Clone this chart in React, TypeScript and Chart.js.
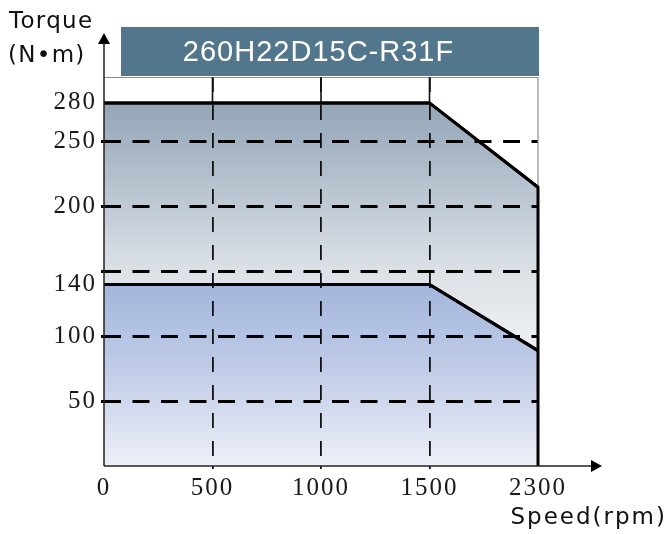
import React, { useEffect, useRef } from 'react';
import { Chart, registerables } from 'chart.js';

Chart.register(...registerables);

// ---- data ----
const speedLabels = ['0', '500', '1000', '1500', '2300'];
const peakTorque = [280, 280, 280, 280, 215];
const ratedTorque = [140, 140, 140, 140, 89];
const torqueTickValues = [50, 100, 140, 150, 200, 250, 280];
const torqueTickLabels = ['50', '100', '140', '', '200', '250', '280'];
const gridTorqueValues = [50, 100, 150, 200, 250];
const gridSpeedLabels = ['500', '1000', '1500'];
const modelName = '260H22D15C-R31F';
const yTitleLines = ['Torque', '(N•m)'];
const xTitle = 'Speed(rpm)';

const SERIF = '"Liberation Serif", "DejaVu Serif", serif';
const SANS = '"DejaVu Sans", "Noto Sans", sans-serif';

const decorPlugin = {
  id: 'decor',
  beforeLayout(chart: any) {
    chart.ctx.letterSpacing = '2px';
  },
  beforeDraw(chart: any) {
    const ctx = chart.ctx;
    ctx.save();
    ctx.fillStyle = '#ffffff';
    ctx.fillRect(0, 0, chart.width, chart.height);
    ctx.restore();
    ctx.letterSpacing = '2px';
  },
  afterDraw(chart: any) {
    const { ctx, chartArea: a, scales } = chart;
    const x = scales.x;
    const y = scales.y;
    const last = speedLabels.length - 1;
    const xEnd = x.getPixelForValue(last);
    const yPeakEnd = y.getPixelForValue(peakTorque[last]);

    ctx.save();
    ctx.letterSpacing = '0px';
    ctx.setLineDash([]);

    // thin frame (top + right above curve)
    ctx.strokeStyle = '#8c8c8c';
    ctx.lineWidth = 1.2;
    ctx.beginPath();
    ctx.moveTo(a.left, a.top + 0.5);
    ctx.lineTo(xEnd, a.top + 0.5);
    ctx.moveTo(xEnd, a.top);
    ctx.lineTo(xEnd, yPeakEnd);
    ctx.stroke();

    // solid grid segments above peak curve
    ctx.strokeStyle = '#111';
    ctx.lineWidth = 1.6;
    gridSpeedLabels.forEach((l) => {
      const i = speedLabels.indexOf(l);
      const px = x.getPixelForValue(i);
      ctx.beginPath();
      ctx.moveTo(px, a.top);
      ctx.lineTo(px, y.getPixelForValue(peakTorque[i]) - 1);
      ctx.stroke();
    });

    // redraw curves on top of the grid
    chart.getSortedVisibleDatasetMetas().forEach((meta: any) => {
      const pts = meta.data;
      ctx.strokeStyle = '#000';
      ctx.lineWidth = 3;
      ctx.lineJoin = 'miter';
      ctx.beginPath();
      pts.forEach((p: any, k: number) => (k === 0 ? ctx.moveTo(p.x, p.y) : ctx.lineTo(p.x, p.y)));
      ctx.stroke();
    });

    // closing vertical line at max speed
    ctx.strokeStyle = '#000';
    ctx.lineWidth = 3;
    ctx.beginPath();
    ctx.moveTo(xEnd, yPeakEnd - 1);
    ctx.lineTo(xEnd, a.bottom);
    ctx.stroke();

    // axes with arrows
    ctx.strokeStyle = '#222';
    ctx.fillStyle = '#000';
    ctx.lineWidth = 1.5;
    ctx.beginPath();
    ctx.moveTo(a.left, a.bottom);
    ctx.lineTo(a.left, 40);
    ctx.moveTo(a.left, a.bottom);
    ctx.lineTo(594, a.bottom);
    ctx.stroke();
    ctx.beginPath();
    ctx.moveTo(a.left, 33);
    ctx.lineTo(a.left - 6, 44);
    ctx.lineTo(a.left + 6, 44);
    ctx.closePath();
    ctx.fill();
    ctx.beginPath();
    ctx.moveTo(602, a.bottom);
    ctx.lineTo(591, a.bottom - 6);
    ctx.lineTo(591, a.bottom + 6);
    ctx.closePath();
    ctx.fill();

    // title box
    const boxLeft = a.left + 17;
    const boxTop = 27;
    const boxBottom = a.top - 1;
    ctx.fillStyle = '#52768c';
    ctx.fillRect(boxLeft, boxTop, xEnd + 1 - boxLeft, boxBottom - boxTop);
    ctx.fillStyle = '#ffffff';
    ctx.font = `29px "Liberation Sans", Arial, sans-serif`;
    ctx.letterSpacing = '1px';
    ctx.textAlign = 'center';
    ctx.textBaseline = 'middle';
    ctx.fillText(modelName, (boxLeft + xEnd) / 2 - 11, (boxTop + boxBottom) / 2 + 1);

    // axis titles
    ctx.fillStyle = '#111';
    ctx.font = `23px ${SANS}`;
    ctx.letterSpacing = '1.3px';
    ctx.textAlign = 'left';
    ctx.textBaseline = 'alphabetic';
    ctx.fillText(yTitleLines[0], 9, 28);
    ctx.fillText(yTitleLines[1], 8, 62);
    ctx.textAlign = 'right';
    ctx.letterSpacing = '2px';
    ctx.fillText(xTitle, 667, 524);
    ctx.restore();
  },
};

export default function App() {
  const ref = useRef<HTMLCanvasElement>(null);

  useEffect(() => {
    const canvas = ref.current;
    if (!canvas) return;

    const upperGradient = (context: any) => {
      const chart = context.chart;
      const a = chart.chartArea;
      if (!a) return 'rgba(0,0,0,0)';
      const g = chart.ctx.createLinearGradient(0, a.top, 0, a.bottom);
      g.addColorStop(0, '#889cb0');
      g.addColorStop(0.5, '#dce1e7');
      g.addColorStop(0.75, '#f3f4f6');
      g.addColorStop(1, '#fbfbfc');
      return g;
    };
    const lowerGradient = (context: any) => {
      const chart = context.chart;
      const a = chart.chartArea;
      if (!a) return 'rgba(0,0,0,0)';
      const yScale = chart.scales.y;
      const topPx = yScale.getPixelForValue(ratedTorque[0]);
      const g = chart.ctx.createLinearGradient(0, topPx, 0, a.bottom);
      g.addColorStop(0, '#a3b6dc');
      g.addColorStop(0.5, '#c3cee8');
      g.addColorStop(1, '#edf0f8');
      return g;
    };

    const chart = new Chart(canvas, {
      type: 'line',
      data: {
        labels: speedLabels,
        datasets: [
          {
            label: 'Rated',
            data: ratedTorque,
            borderColor: '#000',
            borderWidth: 3,
            backgroundColor: lowerGradient,
            fill: 'origin',
            pointRadius: 0,
            tension: 0,
          },
          {
            label: 'Peak',
            data: peakTorque,
            borderColor: '#000',
            borderWidth: 3,
            backgroundColor: upperGradient,
            fill: 'origin',
            pointRadius: 0,
            tension: 0,
          },
        ],
      },
      options: {
        responsive: true,
        maintainAspectRatio: false,
        animation: false,
        devicePixelRatio: 1,
        layout: { padding: { left: 0, top: 77, right: 132, bottom: 0 } },
        plugins: {
          legend: { display: false },
          title: { display: false },
          tooltip: { enabled: false },
        },
        scales: {
          x: {
            type: 'category',
            offset: false,
            afterFit: (scale: any) => {
              scale.height = 68;
            },
            border: { display: false, dash: [15, 13] },
            grid: {
              z: 1,
              color: (ctx: any) =>
                gridSpeedLabels.includes(speedLabels[ctx.index]) ? '#111' : 'rgba(0,0,0,0)',
              lineWidth: 1.8,
              tickLength: 3,
            },
            ticks: {
              autoSkip: false,
              maxRotation: 0,
              padding: 4,
              color: '#1a1a1a',
              font: { family: SERIF, size: 25 },
            },
          },
          y: {
            type: 'linear',
            min: 0,
            max: 300,
            afterFit: (scale: any) => {
              scale.width = 104;
            },
            afterBuildTicks: (scale: any) => {
              scale.ticks = torqueTickValues.map((v) => ({ value: v }));
            },
            border: { display: false, dash: [17, 11.5] },
            grid: {
              z: 1,
              color: (ctx: any) =>
                ctx.tick && gridTorqueValues.includes(ctx.tick.value) ? '#000' : 'rgba(0,0,0,0)',
              lineWidth: 3,
              tickLength: 3,
            },
            ticks: {
              padding: 4,
              color: '#1a1a1a',
              font: { family: SERIF, size: 25 },
              callback: (value: any) => {
                const i = torqueTickValues.indexOf(Number(value));
                return i >= 0 ? torqueTickLabels[i] : '';
              },
            },
          },
        },
      },
      plugins: [decorPlugin],
    });

    return () => chart.destroy();
  }, []);

  return (
    <div
      style={{
        position: 'fixed',
        left: 0,
        top: 0,
        width: 670,
        height: 534,
        background: '#fff',
      }}
    >
      <canvas ref={ref} />
    </div>
  );
}
